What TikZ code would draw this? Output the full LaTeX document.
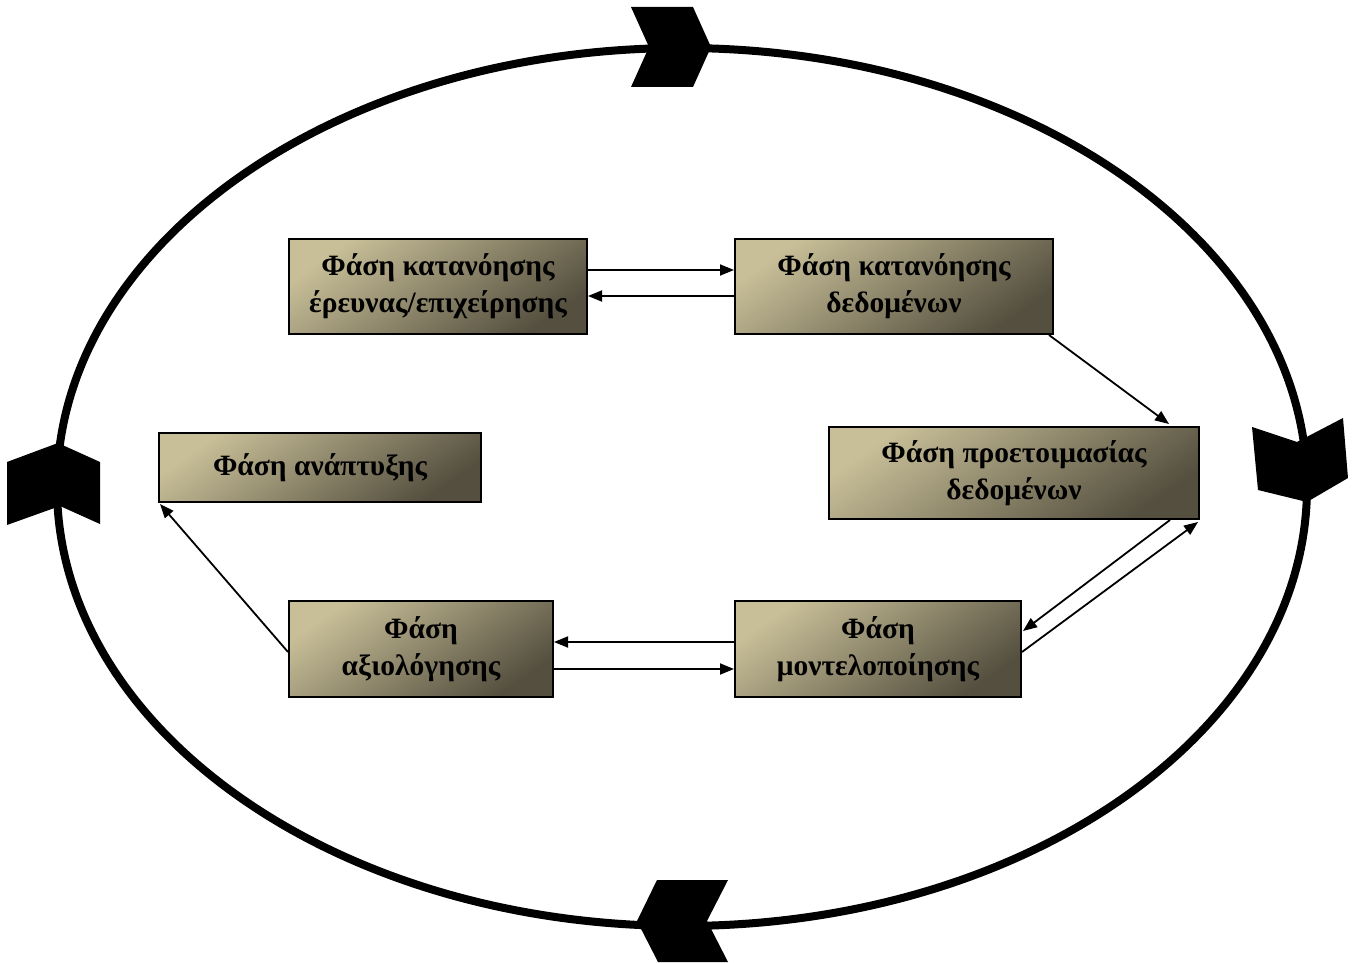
\documentclass[tikz,border=0pt]{standalone}
\usepackage{fontspec}
\setmainfont{Liberation Serif}
\usetikzlibrary{arrows.meta,calc}
\definecolor{boxlight}{RGB}{200,191,152}
\definecolor{boxdark}{RGB}{84,79,63}
\tikzset{
  phase/.style={draw=black, line width=2pt, shading=axis, top color=boxlight,
    bottom color=boxdark, shading angle=35, align=center,
    font=\fontsize{29.5}{37}\selectfont\bfseries, inner sep=0pt},
  link/.style={line width=1.8pt, -{Triangle[length=14pt,width=11pt]}},
  ring/.style={line width=8pt},
  chevron/.style={fill=black, draw=none}
}
\begin{document}
\begin{tikzpicture}[x=1pt,y=-1pt]
\useasboundingbox (0,0) rectangle (1358,963);
\fill[white] (0,0) rectangle (1358,963);

% outer cycle
\draw[ring] (682,487) ellipse [x radius=625, y radius=439];

% direction markers on the cycle (clockwise)
\fill[chevron] (631,7) -- (693,7) -- (711,47) -- (693,87) -- (631,87) -- (649,47) -- cycle;
\fill[chevron] (1252,427) -- (1297,442) -- (1343,418) -- (1348,478) -- (1307,502) -- (1258,490) -- cycle;
\fill[chevron] (657,880) -- (728,880) -- (707,921) -- (728,962) -- (658,962) -- (637,921) -- cycle;
\fill[chevron] (7,462) -- (58,443) -- (100,462) -- (100,524) -- (60,506) -- (7,525) -- cycle;

% phases
\node[phase, minimum width=298pt, minimum height=95pt] (bu) at (438,286.5)
  {Φάση κατανόησης\\έρευνας/επιχείρησης};
\node[phase, minimum width=318pt, minimum height=95pt] (du) at (894,286.5)
  {Φάση κατανόησης\\δεδομένων};
\node[phase, minimum width=370pt, minimum height=92pt] (dp) at (1014,473)
  {Φάση προετοιμασίας\\δεδομένων};
\node[phase, minimum width=286pt, minimum height=96pt] (mo) at (878,649)
  {Φάση\\μοντελοποίησης};
\node[phase, minimum width=264pt, minimum height=96pt] (ev) at (421,649)
  {Φάση\\αξιολόγησης};
\node[phase, minimum width=322pt, minimum height=69pt] (de) at (320,467.5)
  {Φάση ανάπτυξης};

% transitions
\draw[link] ($(bu.east)+(0,-16.5)$) -- ($(du.west)+(0,-16.5)$);
\draw[link] ($(du.west)+(0,9.5)$) -- ($(bu.east)+(0,9.5)$);
\draw[link] ($(du.south east)+(-5,0)$) -- ($(dp.north east)+(-31,-2)$);
\draw[link] ($(dp.south east)+(-30,0)$) -- ($(mo.east)+(1,-18)$);
\draw[link] ($(mo.east)+(0,3)$) -- ($(dp.south east)+(-2,2)$);
\draw[link] ($(mo.west)+(0,-7)$) -- ($(ev.east)+(0,-7)$);
\draw[link] ($(ev.east)+(0,20)$) -- ($(mo.west)+(0,20)$);
\draw[link] ($(ev.west)+(0,3)$) -- ($(de.south west)+(2,1)$);
\end{tikzpicture}
\end{document}
